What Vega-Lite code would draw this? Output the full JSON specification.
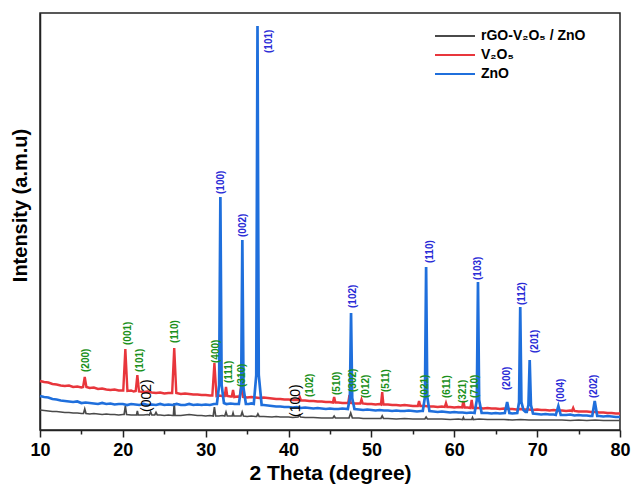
{
  "$schema": "https://vega.github.io/schema/vega-lite/v6.json",
  "width": 580,
  "height": 417,
  "autosize": {"type": "none"},
  "padding": {"left": 40, "top": 13, "right": 11, "bottom": 58},
  "background": "white",
  "config": {
    "font": "Liberation Sans",
    "view": {"stroke": "#222222", "strokeWidth": 1.5}
  },
  "datasets": {
    "xrd": [
      {"s": "C", "t": 10.0, "i": 20}, {"s": "C", "t": 10.5, "i": 19.5}, {"s": "C", "t": 11.0, "i": 19}, {"s": "C", "t": 11.5, "i": 18.5}, {"s": "C", "t": 12.0, "i": 18.5}, {"s": "C", "t": 12.5, "i": 18}, {"s": "C", "t": 13.0, "i": 17.5}, {"s": "C", "t": 13.5, "i": 17.5}, {"s": "C", "t": 14.0, "i": 17}, {"s": "C", "t": 14.5, "i": 17}, {"s": "C", "t": 15.0, "i": 16.5},
      {"s": "C", "t": 15.25, "i": 16.5}, {"s": "C", "t": 15.4, "i": 21}, {"s": "C", "t": 15.55, "i": 16.5},
      {"s": "C", "t": 16.0, "i": 16}, {"s": "C", "t": 16.5, "i": 16.5}, {"s": "C", "t": 17.0, "i": 16}, {"s": "C", "t": 17.5, "i": 15.5}, {"s": "C", "t": 18.0, "i": 16}, {"s": "C", "t": 18.5, "i": 15.5}, {"s": "C", "t": 19.0, "i": 15.5}, {"s": "C", "t": 19.5, "i": 15}, {"s": "C", "t": 20.0, "i": 15.5},
      {"s": "C", "t": 20.15, "i": 15.5}, {"s": "C", "t": 20.3, "i": 24}, {"s": "C", "t": 20.45, "i": 15.5},
      {"s": "C", "t": 21.0, "i": 15}, {"s": "C", "t": 21.5, "i": 15},
      {"s": "C", "t": 21.65, "i": 15}, {"s": "C", "t": 21.75, "i": 19}, {"s": "C", "t": 21.85, "i": 15},
      {"s": "C", "t": 22.5, "i": 15}, {"s": "C", "t": 23.0, "i": 15.5},
      {"s": "C", "t": 23.2, "i": 15}, {"s": "C", "t": 23.35, "i": 18}, {"s": "C", "t": 23.5, "i": 15},
      {"s": "C", "t": 23.85, "i": 15}, {"s": "C", "t": 24.0, "i": 17.5}, {"s": "C", "t": 24.15, "i": 15},
      {"s": "C", "t": 24.5, "i": 15}, {"s": "C", "t": 25.0, "i": 14.5}, {"s": "C", "t": 25.5, "i": 15}, {"s": "C", "t": 26.0, "i": 14.5},
      {"s": "C", "t": 26.1, "i": 14.5}, {"s": "C", "t": 26.2, "i": 27}, {"s": "C", "t": 26.3, "i": 14.5},
      {"s": "C", "t": 27.0, "i": 14.5}, {"s": "C", "t": 27.5, "i": 15}, {"s": "C", "t": 28.0, "i": 15.5}, {"s": "C", "t": 28.5, "i": 15}, {"s": "C", "t": 29.0, "i": 14.5}, {"s": "C", "t": 29.5, "i": 14.5}, {"s": "C", "t": 30.0, "i": 14}, {"s": "C", "t": 30.5, "i": 14.5},
      {"s": "C", "t": 30.9, "i": 14}, {"s": "C", "t": 31.05, "i": 23}, {"s": "C", "t": 31.2, "i": 14},
      {"s": "C", "t": 31.6, "i": 14}, {"s": "C", "t": 32.0, "i": 14.5},
      {"s": "C", "t": 32.3, "i": 14}, {"s": "C", "t": 32.45, "i": 18}, {"s": "C", "t": 32.6, "i": 14},
      {"s": "C", "t": 33.0, "i": 14},
      {"s": "C", "t": 33.2, "i": 14}, {"s": "C", "t": 33.3, "i": 17}, {"s": "C", "t": 33.4, "i": 14},
      {"s": "C", "t": 33.8, "i": 14},
      {"s": "C", "t": 34.25, "i": 14}, {"s": "C", "t": 34.4, "i": 18}, {"s": "C", "t": 34.55, "i": 14},
      {"s": "C", "t": 35.0, "i": 13.5}, {"s": "C", "t": 35.5, "i": 14}, {"s": "C", "t": 36.0, "i": 13.5},
      {"s": "C", "t": 36.15, "i": 13.5}, {"s": "C", "t": 36.3, "i": 16}, {"s": "C", "t": 36.45, "i": 13.5},
      {"s": "C", "t": 37.0, "i": 13.5}, {"s": "C", "t": 38.0, "i": 13}, {"s": "C", "t": 38.5, "i": 13.5}, {"s": "C", "t": 39.0, "i": 13}, {"s": "C", "t": 40.0, "i": 13}, {"s": "C", "t": 40.5, "i": 12.5},
      {"s": "C", "t": 41.15, "i": 13}, {"s": "C", "t": 41.3, "i": 15}, {"s": "C", "t": 41.45, "i": 13},
      {"s": "C", "t": 42.0, "i": 12.5}, {"s": "C", "t": 43.0, "i": 12.5}, {"s": "C", "t": 44.0, "i": 12}, {"s": "C", "t": 45.0, "i": 12},
      {"s": "C", "t": 45.35, "i": 12}, {"s": "C", "t": 45.5, "i": 14}, {"s": "C", "t": 45.65, "i": 12},
      {"s": "C", "t": 46.0, "i": 12}, {"s": "C", "t": 47.0, "i": 12},
      {"s": "C", "t": 47.3, "i": 12}, {"s": "C", "t": 47.5, "i": 17}, {"s": "C", "t": 47.7, "i": 12},
      {"s": "C", "t": 48.5, "i": 12}, {"s": "C", "t": 49.0, "i": 11.5}, {"s": "C", "t": 50.0, "i": 11.5},
      {"s": "C", "t": 51.15, "i": 11.5}, {"s": "C", "t": 51.3, "i": 14}, {"s": "C", "t": 51.45, "i": 11.5},
      {"s": "C", "t": 52.0, "i": 11.5}, {"s": "C", "t": 53.0, "i": 11}, {"s": "C", "t": 54.0, "i": 11.5}, {"s": "C", "t": 55.0, "i": 11}, {"s": "C", "t": 56.0, "i": 11},
      {"s": "C", "t": 56.45, "i": 11}, {"s": "C", "t": 56.6, "i": 13}, {"s": "C", "t": 56.75, "i": 11},
      {"s": "C", "t": 57.5, "i": 11}, {"s": "C", "t": 58.5, "i": 11}, {"s": "C", "t": 59.5, "i": 10.5}, {"s": "C", "t": 60.5, "i": 11},
      {"s": "C", "t": 61.0, "i": 10.5}, {"s": "C", "t": 61.1, "i": 12.5}, {"s": "C", "t": 61.2, "i": 10.5},
      {"s": "C", "t": 62.1, "i": 10.5}, {"s": "C", "t": 62.2, "i": 12.5}, {"s": "C", "t": 62.3, "i": 10.5},
      {"s": "C", "t": 63.0, "i": 11}, {"s": "C", "t": 64.0, "i": 10.5}, {"s": "C", "t": 65.0, "i": 10.5}, {"s": "C", "t": 66.0, "i": 10.5}, {"s": "C", "t": 67.0, "i": 10}, {"s": "C", "t": 68.0, "i": 10.5}, {"s": "C", "t": 69.0, "i": 10}, {"s": "C", "t": 70.0, "i": 10}, {"s": "C", "t": 71.0, "i": 10}, {"s": "C", "t": 72.0, "i": 10}, {"s": "C", "t": 73.0, "i": 10}, {"s": "C", "t": 74.0, "i": 9.5}, {"s": "C", "t": 75.0, "i": 10}, {"s": "C", "t": 76.0, "i": 9.5}, {"s": "C", "t": 77.0, "i": 10}, {"s": "C", "t": 78.0, "i": 9.5}, {"s": "C", "t": 79.0, "i": 9.5}, {"s": "C", "t": 80.0, "i": 9.5},

      {"s": "V", "t": 10.0, "i": 49}, {"s": "V", "t": 10.5, "i": 48}, {"s": "V", "t": 11.0, "i": 47.5}, {"s": "V", "t": 11.5, "i": 46}, {"s": "V", "t": 12.0, "i": 45.5}, {"s": "V", "t": 12.5, "i": 44.5}, {"s": "V", "t": 13.0, "i": 44}, {"s": "V", "t": 13.5, "i": 44.5}, {"s": "V", "t": 14.0, "i": 43}, {"s": "V", "t": 14.5, "i": 43.5}, {"s": "V", "t": 15.0, "i": 42.5},
      {"s": "V", "t": 15.2, "i": 43}, {"s": "V", "t": 15.4, "i": 53}, {"s": "V", "t": 15.6, "i": 43},
      {"s": "V", "t": 16.0, "i": 42}, {"s": "V", "t": 16.5, "i": 42.5}, {"s": "V", "t": 17.0, "i": 41}, {"s": "V", "t": 17.5, "i": 41.5}, {"s": "V", "t": 18.0, "i": 40.5}, {"s": "V", "t": 18.5, "i": 40}, {"s": "V", "t": 19.0, "i": 40.5}, {"s": "V", "t": 19.5, "i": 39.5},
      {"s": "V", "t": 20.05, "i": 39.5}, {"s": "V", "t": 20.3, "i": 81}, {"s": "V", "t": 20.55, "i": 39},
      {"s": "V", "t": 21.0, "i": 39.5}, {"s": "V", "t": 21.3, "i": 38.5},
      {"s": "V", "t": 21.55, "i": 39}, {"s": "V", "t": 21.75, "i": 55}, {"s": "V", "t": 21.95, "i": 38.5},
      {"s": "V", "t": 22.5, "i": 38}, {"s": "V", "t": 23.0, "i": 38.5}, {"s": "V", "t": 23.5, "i": 37.5}, {"s": "V", "t": 24.0, "i": 37}, {"s": "V", "t": 24.5, "i": 37.5}, {"s": "V", "t": 25.0, "i": 36.5}, {"s": "V", "t": 25.5, "i": 37},
      {"s": "V", "t": 25.95, "i": 37}, {"s": "V", "t": 26.2, "i": 82}, {"s": "V", "t": 26.45, "i": 37},
      {"s": "V", "t": 27.0, "i": 36}, {"s": "V", "t": 27.5, "i": 36.5}, {"s": "V", "t": 28.0, "i": 36}, {"s": "V", "t": 28.5, "i": 35.5}, {"s": "V", "t": 29.0, "i": 35.5}, {"s": "V", "t": 29.5, "i": 35}, {"s": "V", "t": 30.0, "i": 35}, {"s": "V", "t": 30.5, "i": 34.5},
      {"s": "V", "t": 30.8, "i": 34.5}, {"s": "V", "t": 31.05, "i": 67}, {"s": "V", "t": 31.3, "i": 34},
      {"s": "V", "t": 31.6, "i": 34.5}, {"s": "V", "t": 32.0, "i": 34},
      {"s": "V", "t": 32.3, "i": 34}, {"s": "V", "t": 32.45, "i": 43}, {"s": "V", "t": 32.6, "i": 34},
      {"s": "V", "t": 33.0, "i": 33.5},
      {"s": "V", "t": 33.15, "i": 33.5}, {"s": "V", "t": 33.3, "i": 40}, {"s": "V", "t": 33.45, "i": 33},
      {"s": "V", "t": 33.8, "i": 33.5},
      {"s": "V", "t": 34.1, "i": 33}, {"s": "V", "t": 34.3, "i": 45}, {"s": "V", "t": 34.5, "i": 33},
      {"s": "V", "t": 35.0, "i": 32.5}, {"s": "V", "t": 35.5, "i": 33}, {"s": "V", "t": 36.0, "i": 32.5}, {"s": "V", "t": 36.5, "i": 32}, {"s": "V", "t": 37.0, "i": 32.5}, {"s": "V", "t": 37.5, "i": 32}, {"s": "V", "t": 38.0, "i": 31.5}, {"s": "V", "t": 38.5, "i": 31}, {"s": "V", "t": 39.0, "i": 31}, {"s": "V", "t": 39.5, "i": 30.5}, {"s": "V", "t": 40.0, "i": 30.5}, {"s": "V", "t": 40.5, "i": 30}, {"s": "V", "t": 41.0, "i": 30},
      {"s": "V", "t": 41.2, "i": 30}, {"s": "V", "t": 41.35, "i": 33}, {"s": "V", "t": 41.5, "i": 29.5},
      {"s": "V", "t": 42.0, "i": 29.5}, {"s": "V", "t": 42.5, "i": 29}, {"s": "V", "t": 43.0, "i": 29}, {"s": "V", "t": 43.5, "i": 28.5}, {"s": "V", "t": 44.0, "i": 28.5}, {"s": "V", "t": 44.5, "i": 28}, {"s": "V", "t": 45.0, "i": 28},
      {"s": "V", "t": 45.35, "i": 27.5}, {"s": "V", "t": 45.5, "i": 33}, {"s": "V", "t": 45.65, "i": 27.5},
      {"s": "V", "t": 46.0, "i": 27.5}, {"s": "V", "t": 46.5, "i": 27}, {"s": "V", "t": 47.0, "i": 27},
      {"s": "V", "t": 47.2, "i": 27}, {"s": "V", "t": 47.35, "i": 35}, {"s": "V", "t": 47.5, "i": 27},
      {"s": "V", "t": 48.0, "i": 26.5}, {"s": "V", "t": 48.5, "i": 26.5},
      {"s": "V", "t": 48.65, "i": 26.5}, {"s": "V", "t": 48.8, "i": 30.5}, {"s": "V", "t": 48.95, "i": 26.5},
      {"s": "V", "t": 49.5, "i": 26}, {"s": "V", "t": 50.0, "i": 26}, {"s": "V", "t": 50.5, "i": 25.5}, {"s": "V", "t": 51.0, "i": 26},
      {"s": "V", "t": 51.15, "i": 25.5}, {"s": "V", "t": 51.3, "i": 38}, {"s": "V", "t": 51.45, "i": 25.5},
      {"s": "V", "t": 52.0, "i": 25.5}, {"s": "V", "t": 52.5, "i": 25}, {"s": "V", "t": 53.0, "i": 25}, {"s": "V", "t": 53.5, "i": 24.5}, {"s": "V", "t": 54.0, "i": 25}, {"s": "V", "t": 54.5, "i": 24.5}, {"s": "V", "t": 55.0, "i": 24},
      {"s": "V", "t": 55.6, "i": 24}, {"s": "V", "t": 55.75, "i": 29}, {"s": "V", "t": 55.9, "i": 24},
      {"s": "V", "t": 56.5, "i": 24}, {"s": "V", "t": 57.0, "i": 23.5}, {"s": "V", "t": 57.5, "i": 23.5}, {"s": "V", "t": 58.0, "i": 23}, {"s": "V", "t": 58.5, "i": 23.5},
      {"s": "V", "t": 58.85, "i": 23}, {"s": "V", "t": 59.0, "i": 27}, {"s": "V", "t": 59.15, "i": 23},
      {"s": "V", "t": 59.5, "i": 23}, {"s": "V", "t": 60.0, "i": 22.5}, {"s": "V", "t": 60.5, "i": 23},
      {"s": "V", "t": 60.95, "i": 22.5}, {"s": "V", "t": 61.1, "i": 29}, {"s": "V", "t": 61.25, "i": 22.5},
      {"s": "V", "t": 61.6, "i": 22.5},
      {"s": "V", "t": 61.95, "i": 22}, {"s": "V", "t": 62.1, "i": 30}, {"s": "V", "t": 62.25, "i": 22},
      {"s": "V", "t": 62.7, "i": 22}, {"s": "V", "t": 63.0, "i": 22}, {"s": "V", "t": 63.5, "i": 21.5}, {"s": "V", "t": 64.0, "i": 22}, {"s": "V", "t": 64.5, "i": 21.5}, {"s": "V", "t": 65.0, "i": 21.5}, {"s": "V", "t": 65.5, "i": 21}, {"s": "V", "t": 66.0, "i": 21.5}, {"s": "V", "t": 66.5, "i": 21}, {"s": "V", "t": 67.0, "i": 21}, {"s": "V", "t": 67.5, "i": 20.5}, {"s": "V", "t": 68.0, "i": 21}, {"s": "V", "t": 68.5, "i": 20.5}, {"s": "V", "t": 69.0, "i": 20.5}, {"s": "V", "t": 69.5, "i": 20}, {"s": "V", "t": 70.0, "i": 20.5}, {"s": "V", "t": 70.5, "i": 20}, {"s": "V", "t": 71.0, "i": 20}, {"s": "V", "t": 71.5, "i": 19.5}, {"s": "V", "t": 72.0, "i": 20}, {"s": "V", "t": 72.5, "i": 19.5}, {"s": "V", "t": 73.0, "i": 19.5}, {"s": "V", "t": 73.5, "i": 19}, {"s": "V", "t": 74.0, "i": 19.5},
      {"s": "V", "t": 74.2, "i": 19}, {"s": "V", "t": 74.35, "i": 22}, {"s": "V", "t": 74.5, "i": 19},
      {"s": "V", "t": 75.0, "i": 18.5}, {"s": "V", "t": 75.5, "i": 18.5}, {"s": "V", "t": 76.0, "i": 18.5}, {"s": "V", "t": 76.5, "i": 18}, {"s": "V", "t": 77.0, "i": 18}, {"s": "V", "t": 77.5, "i": 17.5}, {"s": "V", "t": 78.0, "i": 17.5}, {"s": "V", "t": 78.5, "i": 17}, {"s": "V", "t": 79.0, "i": 17}, {"s": "V", "t": 79.5, "i": 16.5}, {"s": "V", "t": 80.0, "i": 16.5},

      {"s": "Z", "t": 10.0, "i": 34}, {"s": "Z", "t": 10.5, "i": 33}, {"s": "Z", "t": 11.0, "i": 32.5}, {"s": "Z", "t": 11.5, "i": 31}, {"s": "Z", "t": 12.0, "i": 30.5}, {"s": "Z", "t": 12.5, "i": 29.5}, {"s": "Z", "t": 13.0, "i": 29}, {"s": "Z", "t": 13.5, "i": 28.5}, {"s": "Z", "t": 14.0, "i": 28}, {"s": "Z", "t": 14.5, "i": 28.5}, {"s": "Z", "t": 15.0, "i": 27}, {"s": "Z", "t": 15.5, "i": 27.5}, {"s": "Z", "t": 16.0, "i": 27}, {"s": "Z", "t": 16.5, "i": 26.5}, {"s": "Z", "t": 17.0, "i": 26}, {"s": "Z", "t": 17.5, "i": 27}, {"s": "Z", "t": 18.0, "i": 26}, {"s": "Z", "t": 18.5, "i": 26.5}, {"s": "Z", "t": 19.0, "i": 25.5}, {"s": "Z", "t": 19.5, "i": 26}, {"s": "Z", "t": 20.0, "i": 26}, {"s": "Z", "t": 20.5, "i": 25}, {"s": "Z", "t": 21.0, "i": 26}, {"s": "Z", "t": 21.5, "i": 25.5}, {"s": "Z", "t": 22.0, "i": 25}, {"s": "Z", "t": 22.5, "i": 26}, {"s": "Z", "t": 23.0, "i": 25}, {"s": "Z", "t": 23.5, "i": 25.5}, {"s": "Z", "t": 24.0, "i": 25}, {"s": "Z", "t": 24.5, "i": 26}, {"s": "Z", "t": 25.0, "i": 25}, {"s": "Z", "t": 25.5, "i": 25.5}, {"s": "Z", "t": 26.0, "i": 25}, {"s": "Z", "t": 26.5, "i": 26}, {"s": "Z", "t": 27.0, "i": 25}, {"s": "Z", "t": 27.5, "i": 25}, {"s": "Z", "t": 28.0, "i": 26}, {"s": "Z", "t": 28.5, "i": 25}, {"s": "Z", "t": 29.0, "i": 25.5}, {"s": "Z", "t": 29.5, "i": 25}, {"s": "Z", "t": 30.0, "i": 25.5}, {"s": "Z", "t": 30.5, "i": 25}, {"s": "Z", "t": 31.0, "i": 26},
      {"s": "Z", "t": 31.35, "i": 26}, {"s": "Z", "t": 31.62, "i": 45}, {"s": "Z", "t": 31.77, "i": 233}, {"s": "Z", "t": 31.92, "i": 45}, {"s": "Z", "t": 32.2, "i": 27},
      {"s": "Z", "t": 32.5, "i": 26}, {"s": "Z", "t": 33.0, "i": 26.5}, {"s": "Z", "t": 33.5, "i": 26},
      {"s": "Z", "t": 34.0, "i": 26}, {"s": "Z", "t": 34.28, "i": 42}, {"s": "Z", "t": 34.42, "i": 190}, {"s": "Z", "t": 34.56, "i": 42}, {"s": "Z", "t": 34.85, "i": 26},
      {"s": "Z", "t": 35.2, "i": 26}, {"s": "Z", "t": 35.5, "i": 26.5},
      {"s": "Z", "t": 35.8, "i": 26}, {"s": "Z", "t": 36.1, "i": 55}, {"s": "Z", "t": 36.25, "i": 404}, {"s": "Z", "t": 36.4, "i": 55}, {"s": "Z", "t": 36.75, "i": 25},
      {"s": "Z", "t": 37.0, "i": 25}, {"s": "Z", "t": 37.5, "i": 24.5}, {"s": "Z", "t": 38.0, "i": 24}, {"s": "Z", "t": 38.5, "i": 23.5}, {"s": "Z", "t": 39.0, "i": 23.5}, {"s": "Z", "t": 39.5, "i": 23}, {"s": "Z", "t": 40.0, "i": 23}, {"s": "Z", "t": 40.5, "i": 22.5}, {"s": "Z", "t": 41.0, "i": 23}, {"s": "Z", "t": 41.5, "i": 22}, {"s": "Z", "t": 42.0, "i": 22.5}, {"s": "Z", "t": 42.5, "i": 22}, {"s": "Z", "t": 43.0, "i": 21.5}, {"s": "Z", "t": 43.5, "i": 22}, {"s": "Z", "t": 44.0, "i": 21.5}, {"s": "Z", "t": 44.5, "i": 21}, {"s": "Z", "t": 45.0, "i": 21.5}, {"s": "Z", "t": 45.5, "i": 21}, {"s": "Z", "t": 46.0, "i": 21}, {"s": "Z", "t": 46.5, "i": 21.5},
      {"s": "Z", "t": 47.15, "i": 21}, {"s": "Z", "t": 47.4, "i": 32}, {"s": "Z", "t": 47.54, "i": 117}, {"s": "Z", "t": 47.68, "i": 32}, {"s": "Z", "t": 47.95, "i": 21},
      {"s": "Z", "t": 48.5, "i": 20.5}, {"s": "Z", "t": 49.0, "i": 20}, {"s": "Z", "t": 49.5, "i": 20.5}, {"s": "Z", "t": 50.0, "i": 20}, {"s": "Z", "t": 50.5, "i": 19.5}, {"s": "Z", "t": 51.0, "i": 20}, {"s": "Z", "t": 51.5, "i": 19.5}, {"s": "Z", "t": 52.0, "i": 19.5}, {"s": "Z", "t": 52.5, "i": 19}, {"s": "Z", "t": 53.0, "i": 19.5}, {"s": "Z", "t": 53.5, "i": 19}, {"s": "Z", "t": 54.0, "i": 19}, {"s": "Z", "t": 54.5, "i": 19.5}, {"s": "Z", "t": 55.0, "i": 19}, {"s": "Z", "t": 55.5, "i": 18.5}, {"s": "Z", "t": 56.0, "i": 19},
      {"s": "Z", "t": 56.2, "i": 19}, {"s": "Z", "t": 56.46, "i": 33}, {"s": "Z", "t": 56.6, "i": 163}, {"s": "Z", "t": 56.74, "i": 33}, {"s": "Z", "t": 57.0, "i": 19},
      {"s": "Z", "t": 57.5, "i": 18.5}, {"s": "Z", "t": 58.0, "i": 18}, {"s": "Z", "t": 58.5, "i": 18.5}, {"s": "Z", "t": 59.0, "i": 18}, {"s": "Z", "t": 59.5, "i": 17.5}, {"s": "Z", "t": 60.0, "i": 18}, {"s": "Z", "t": 60.5, "i": 17.5}, {"s": "Z", "t": 61.0, "i": 17.5}, {"s": "Z", "t": 61.5, "i": 17}, {"s": "Z", "t": 62.0, "i": 17.5},
      {"s": "Z", "t": 62.45, "i": 17}, {"s": "Z", "t": 62.72, "i": 30}, {"s": "Z", "t": 62.86, "i": 148}, {"s": "Z", "t": 63.0, "i": 30}, {"s": "Z", "t": 63.3, "i": 17},
      {"s": "Z", "t": 63.7, "i": 17}, {"s": "Z", "t": 64.0, "i": 17}, {"s": "Z", "t": 64.5, "i": 16.5}, {"s": "Z", "t": 65.0, "i": 17}, {"s": "Z", "t": 65.5, "i": 16.5},
      {"s": "Z", "t": 66.1, "i": 17}, {"s": "Z", "t": 66.38, "i": 28}, {"s": "Z", "t": 66.65, "i": 17},
      {"s": "Z", "t": 67.0, "i": 16.5},
      {"s": "Z", "t": 67.6, "i": 17}, {"s": "Z", "t": 67.82, "i": 28}, {"s": "Z", "t": 67.96, "i": 123}, {"s": "Z", "t": 68.1, "i": 28}, {"s": "Z", "t": 68.35, "i": 20},
      {"s": "Z", "t": 68.6, "i": 18},
      {"s": "Z", "t": 68.75, "i": 18}, {"s": "Z", "t": 68.95, "i": 25}, {"s": "Z", "t": 69.1, "i": 70}, {"s": "Z", "t": 69.25, "i": 25}, {"s": "Z", "t": 69.5, "i": 16.5},
      {"s": "Z", "t": 70.0, "i": 16}, {"s": "Z", "t": 70.5, "i": 15.5}, {"s": "Z", "t": 71.0, "i": 16}, {"s": "Z", "t": 71.5, "i": 15.5}, {"s": "Z", "t": 72.0, "i": 15.5},
      {"s": "Z", "t": 72.25, "i": 15}, {"s": "Z", "t": 72.56, "i": 24}, {"s": "Z", "t": 72.85, "i": 15},
      {"s": "Z", "t": 73.2, "i": 15}, {"s": "Z", "t": 73.5, "i": 15}, {"s": "Z", "t": 74.0, "i": 15.5}, {"s": "Z", "t": 74.5, "i": 14.5}, {"s": "Z", "t": 75.0, "i": 15}, {"s": "Z", "t": 75.5, "i": 14.5}, {"s": "Z", "t": 76.0, "i": 14.5}, {"s": "Z", "t": 76.4, "i": 14},
      {"s": "Z", "t": 76.65, "i": 14}, {"s": "Z", "t": 76.95, "i": 29}, {"s": "Z", "t": 77.25, "i": 14},
      {"s": "Z", "t": 77.5, "i": 14}, {"s": "Z", "t": 78.0, "i": 13.5}, {"s": "Z", "t": 78.5, "i": 14}, {"s": "Z", "t": 79.0, "i": 13.5}, {"s": "Z", "t": 79.5, "i": 13}, {"s": "Z", "t": 80.0, "i": 13}
    ],
    "labels": [
      {"g": "Z", "t": 31.9, "i": 236, "l": "(100)"},
      {"g": "Z", "t": 34.5, "i": 193, "l": "(002)"},
      {"g": "Z", "t": 37.64, "i": 377, "l": "(101)"},
      {"g": "Z", "t": 47.78, "i": 122, "l": "(102)"},
      {"g": "Z", "t": 57.07, "i": 167, "l": "(110)"},
      {"g": "Z", "t": 62.86, "i": 150, "l": "(103)"},
      {"g": "Z", "t": 66.36, "i": 40, "l": "(200)"},
      {"g": "Z", "t": 68.17, "i": 125, "l": "(112)"},
      {"g": "Z", "t": 69.74, "i": 77, "l": "(201)"},
      {"g": "Z", "t": 72.88, "i": 28, "l": "(004)"},
      {"g": "Z", "t": 76.86, "i": 32, "l": "(202)"},
      {"g": "V", "t": 15.55, "i": 58, "l": "(200)"},
      {"g": "V", "t": 20.62, "i": 85, "l": "(001)"},
      {"g": "V", "t": 22.07, "i": 58, "l": "(101)"},
      {"g": "V", "t": 26.29, "i": 87, "l": "(110)"},
      {"g": "V", "t": 31.24, "i": 67, "l": "(400)"},
      {"g": "V", "t": 32.81, "i": 47, "l": "(111)"},
      {"g": "V", "t": 34.38, "i": 43, "l": "(310)"},
      {"g": "V", "t": 42.59, "i": 33, "l": "(102)"},
      {"g": "V", "t": 45.84, "i": 35, "l": "(510)"},
      {"g": "V", "t": 47.78, "i": 38, "l": "(302)"},
      {"g": "V", "t": 49.34, "i": 32, "l": "(012)"},
      {"g": "V", "t": 51.76, "i": 38, "l": "(511)"},
      {"g": "V", "t": 56.47, "i": 32, "l": "(021)"},
      {"g": "V", "t": 59.12, "i": 32, "l": "(611)"},
      {"g": "V", "t": 61.05, "i": 27, "l": "(321)"},
      {"g": "V", "t": 62.5, "i": 32, "l": "(710)"},
      {"g": "C", "t": 22.91, "i": 18, "l": "(002)"},
      {"g": "C", "t": 40.9, "i": 13, "l": "(100)"}
    ]
  },
  "layer": [
    {
      "data": {"name": "xrd"},
      "transform": [{"filter": "datum.s == 'C'"}],
      "mark": {"type": "line", "strokeWidth": 1.7, "interpolate": "linear"},
      "encoding": {
        "x": {
          "field": "t", "type": "quantitative",
          "scale": {"domain": [10, 80], "nice": false},
          "axis": {
            "title": "2 Theta (degree)",
            "values": [10, 15, 20, 25, 30, 35, 40, 45, 50, 55, 60, 65, 70, 75, 80],
            "labelExpr": "datum.value % 10 === 0 ? datum.label : ''",
            "tickSize": {"condition": {"test": "datum.value % 10 === 0", "value": 7}, "value": 4},
            "grid": false,
            "domainColor": "#222222", "domainWidth": 1.5,
            "tickColor": "#222222", "tickWidth": 1.5,
            "labelColor": "black", "labelFontSize": 18, "labelFontWeight": "bold", "labelPadding": 4, "labelFlush": false,
            "titleColor": "black", "titleFontSize": 21, "titleFontWeight": "bold", "titlePadding": 3
          }
        },
        "y": {
          "field": "i", "type": "quantitative",
          "scale": {"domain": [0, 417], "nice": false},
          "axis": {
            "title": "Intensity (a.m.u)",
            "labels": false, "ticks": false, "grid": false,
            "domainColor": "#222222", "domainWidth": 1.5,
            "titleColor": "black", "titleFontSize": 20, "titleFontWeight": "bold", "titlePadding": 10,
            "titleY": 192
          }
        },
        "color": {
          "field": "s", "type": "nominal",
          "scale": {"domain": ["C", "V", "Z"], "range": ["#4a4a4a", "#e8363c", "#1f6fdc"]},
          "legend": {
            "orient": "none", "legendX": 408, "legendY": 16, "title": null,
            "symbolType": "M-10,0H10", "symbolSize": 16, "symbolStrokeWidth": 2,
            "labelExpr": "datum.value == 'C' ? '\u00a0\u00a0rGO-V\u2082O\u2085 / ZnO' : datum.value == 'V' ? 'V\u2082O\u2085' : 'ZnO'",
            "labelFontSize": 14, "labelFontWeight": "bold", "labelColor": "black", "labelOffset": 19,
            "rowPadding": 5, "padding": 0
          }
        }
      }
    },
    {
      "data": {"name": "xrd"},
      "transform": [{"filter": "datum.s == 'V'"}],
      "mark": {"type": "line", "strokeWidth": 2.4},
      "encoding": {
        "x": {"field": "t", "type": "quantitative"},
        "y": {"field": "i", "type": "quantitative"},
        "color": {"field": "s", "type": "nominal"}
      }
    },
    {
      "data": {"name": "xrd"},
      "transform": [{"filter": "datum.s == 'Z'"}],
      "mark": {"type": "line", "strokeWidth": 2.7},
      "encoding": {
        "x": {"field": "t", "type": "quantitative"},
        "y": {"field": "i", "type": "quantitative"},
        "color": {"field": "s", "type": "nominal"}
      }
    },
    {
      "data": {"name": "labels"},
      "transform": [{"filter": "datum.g == 'Z'"}],
      "mark": {"type": "text", "angle": 270, "align": "left", "baseline": "middle", "fontSize": 10, "fontWeight": "bold", "fill": "#2a2ad6"},
      "encoding": {
        "x": {"field": "t", "type": "quantitative"},
        "y": {"field": "i", "type": "quantitative"},
        "text": {"field": "l"}
      }
    },
    {
      "data": {"name": "labels"},
      "transform": [{"filter": "datum.g == 'V'"}],
      "mark": {"type": "text", "angle": 270, "align": "left", "baseline": "middle", "fontSize": 10, "fontWeight": "bold", "fill": "#1a901a"},
      "encoding": {
        "x": {"field": "t", "type": "quantitative"},
        "y": {"field": "i", "type": "quantitative"},
        "text": {"field": "l"}
      }
    },
    {
      "data": {"name": "labels"},
      "transform": [{"filter": "datum.g == 'C'"}],
      "mark": {"type": "text", "angle": 270, "align": "left", "baseline": "middle", "fontSize": 14, "fill": "black"},
      "encoding": {
        "x": {"field": "t", "type": "quantitative"},
        "y": {"field": "i", "type": "quantitative"},
        "text": {"field": "l"}
      }
    }
  ]
}
